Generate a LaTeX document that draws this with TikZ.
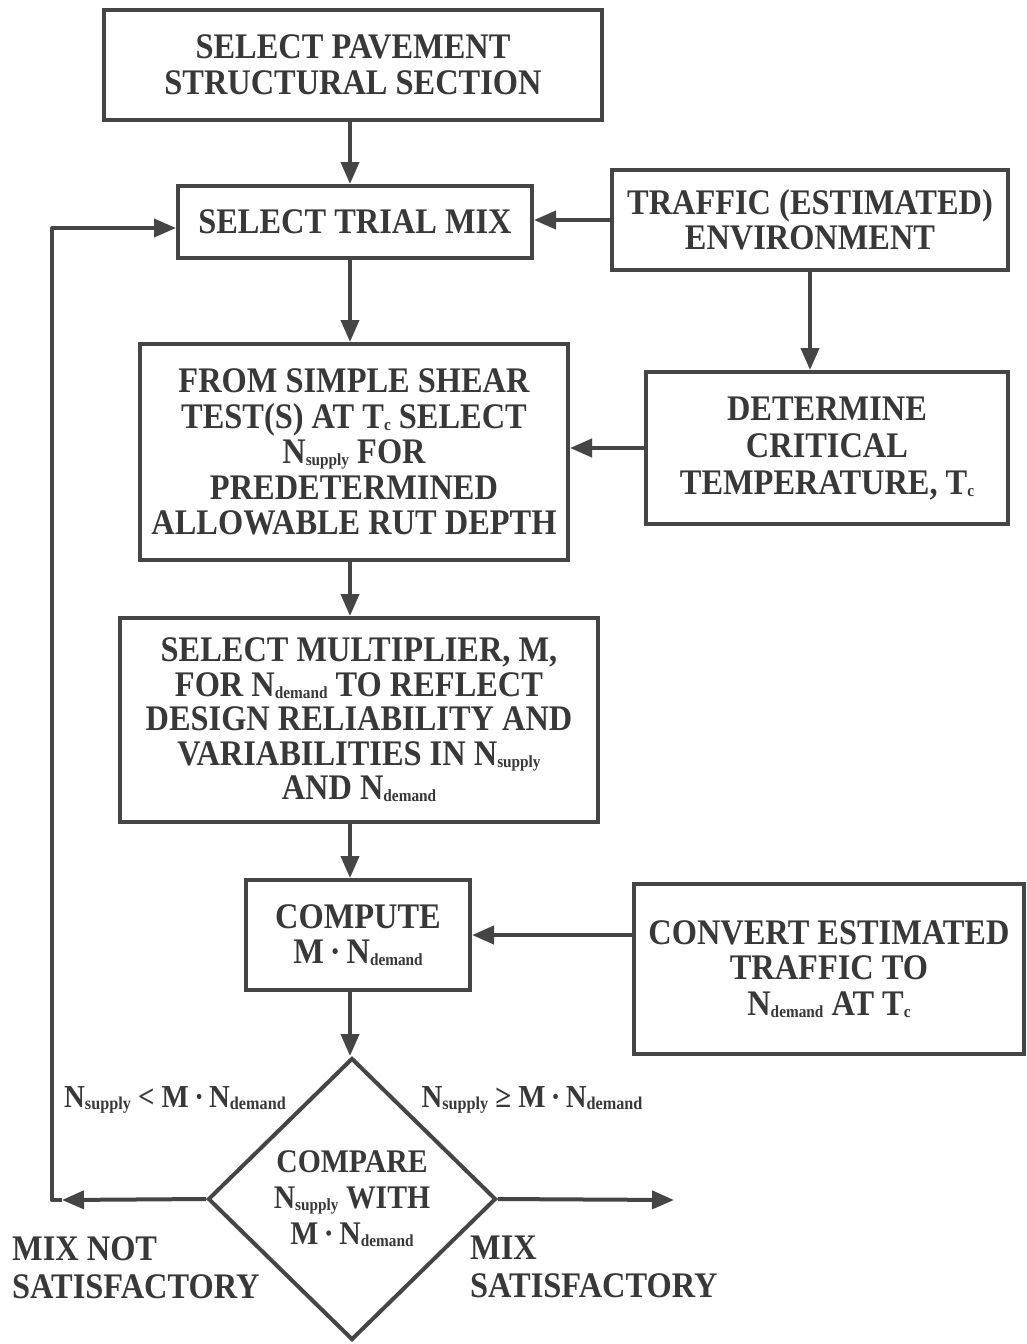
\documentclass[tikz,border=0pt]{standalone}
\usepackage{fontspec}
\setmainfont{Liberation Serif}[FakeStretch=0.9]
\usetikzlibrary{arrows.meta,shapes.geometric}
\definecolor{ink}{HTML}{454545}
\definecolor{txt}{HTML}{383838}
\def\subsz{17}
\newcommand\sbs[1]{\raisebox{-0.06em}{\fontsize{\subsz}{\subsz}\selectfont #1}}
\newcommand\Nsup{N\sbs{supply}}
\newcommand\Ndem{N\sbs{demand}}
\newcommand\Tc{T\sbs{c}}
\newcommand\md{\,·\,}
\begin{document}
\begin{tikzpicture}[x=1pt,y=-1pt,
  box/.style={draw=ink, line width=4pt, rectangle, inner sep=0pt, align=center, text=txt,
    font=\fontsize{36}{35.5}\selectfont\bfseries},
  dia/.style={draw=ink, line width=4pt, diamond, inner sep=0pt, align=center, text=txt,
    minimum width=288pt, minimum height=282pt, font=\fontsize{33}{36}\selectfont\bfseries},
  arr/.style={draw=ink, line width=4pt, line join=round, -{Triangle[length=22pt,width=18pt]}},
  cond/.style={text=txt, inner sep=0pt, font=\fontsize{32}{33}\selectfont\bfseries\def\subsz{18}},
  verdict/.style={text=txt, inner sep=0pt, align=left, font=\fontsize{36}{38}\selectfont\bfseries}]
\useasboundingbox (0,0) rectangle (1026,1344);
\fill[white] (0,0) rectangle (1026,1344);

\node[box, minimum width=498pt, minimum height=110pt] (b1) at (353,65)
  {SELECT PAVEMENT\\STRUCTURAL SECTION};
\node[box, minimum width=354pt, minimum height=72pt] (b2) at (355,222)
  {SELECT TRIAL MIX};
\node[box, minimum width=396pt, minimum height=100pt] (b3) at (810,220)
  {TRAFFIC (ESTIMATED)\\ENVIRONMENT};
\node[box, minimum width=428pt, minimum height=216pt] (b4) at (354,452)
  {FROM SIMPLE SHEAR\\TEST(S) AT \Tc{} SELECT\\\Nsup{} FOR\\PREDETERMINED\\ALLOWABLE RUT DEPTH};
\node[box, minimum width=362pt, minimum height=152pt, font=\fontsize{36}{37}\selectfont\bfseries] (b5) at (827,448)
  {DETERMINE\\CRITICAL\\TEMPERATURE, \Tc};
\node[box, minimum width=478pt, minimum height=204pt, font=\fontsize{36}{34.5}\selectfont\bfseries] (b6) at (359,720)
  {SELECT MULTIPLIER, M,\\FOR \Ndem{} TO REFLECT\\DESIGN RELIABILITY AND\\VARIABILITIES IN \Nsup\\AND \Ndem};
\node[box, minimum width=224pt, minimum height=110pt] (b7) at (358,935)
  {COMPUTE\\M\md\Ndem};
\node[box, minimum width=390pt, minimum height=170pt] (b8) at (829,969)
  {CONVERT ESTIMATED\\TRAFFIC TO\\\Ndem{} AT \Tc};
\node[dia] (d) at (352,1199)
  {COMPARE\\\Nsup{} WITH\\M\md\Ndem};

\node[cond] (lc) at (175,1100) {\Nsup{} < M\md\Ndem};
\node[cond] (rc) at (532,1100) {\Nsup{} ≥ M\md\Ndem};
\node[verdict, anchor=north west] (nv) at (12,1236) {MIX NOT\\SATISFACTORY};
\node[verdict, anchor=north west] (yv) at (470,1236) {MIX\\SATISFACTORY};

\coordinate (col) at (350,0);
\coordinate (col2) at (810,0);
\coordinate (tipL) at (62,1200);
\coordinate (cB) at (52,1200);
\coordinate (cT) at (52,228);
\coordinate (tipR) at (674,1200);

\draw[arr] (b1.south -| col) -- (b2.north -| col);
\draw[arr] (b3.west) -- (b3.west -| b2.east);
\draw[arr] (b2.south -| col) -- (b4.north -| col);
\draw[arr] (b3.south -| col2) -- (b5.north -| col2);
\draw[arr] (b5.west) -- (b5.west -| b4.east);
\draw[arr] (b4.south -| col) -- (b6.north -| col);
\draw[arr] (b6.south -| col) -- (b7.north -| col);
\draw[arr] (b8.west |- b7.east) -- (b7.east);
\draw[arr] (b7.south -| col) -- (d.north -| col);
\draw[arr] (d.west) -- (tipL);
\draw[arr] (tipL) -- (cB) -- (cT) -- (cT -| b2.west);
\draw[arr] (d.east) -- (tipR);
\end{tikzpicture}
\end{document}
